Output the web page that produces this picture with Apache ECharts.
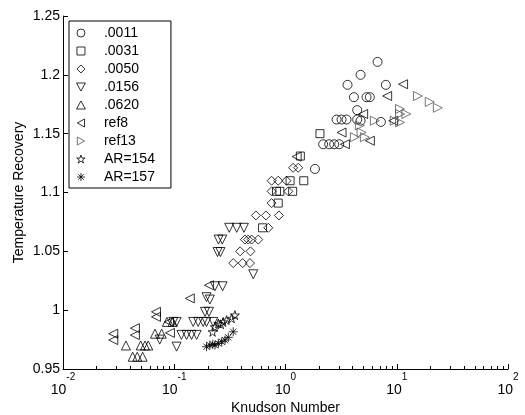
<!DOCTYPE html>
<html>
<head>
<meta charset="utf-8">
<script src="https://cdn.jsdelivr.net/npm/echarts@6/dist/echarts.min.js"></script>
<style>
  html, body { margin: 0; padding: 0; background: #fff; }
  #chart { width: 525px; height: 415px; }
</style>
</head>
<body>
<div id="chart"></div>
<script>
// series names as in the legend
var names = ['.0011', '.0031', '.0050', '.0156', '.0620', 'ref8', 'ref13', 'AR=154', 'AR=157'];

// [Knudson number, temperature recovery]
var d0011 = [[6.72, 1.211], [4.73, 1.200], [3.61, 1.1915], [7.98, 1.1915], [4.12, 1.181], [5.35, 1.181],
  [5.73, 1.181], [4.41, 1.170], [2.88, 1.162], [3.19, 1.162], [3.54, 1.162], [4.41, 1.162], [4.73, 1.161],
  [7.2, 1.160], [2.18, 1.141], [2.47, 1.141], [2.74, 1.141], [3.04, 1.141], [1.84, 1.120]];
var d0031 = [[2.04, 1.150], [1.36, 1.131], [1.10, 1.110], [1.46, 1.110], [0.83, 1.101], [0.89, 1.101],
  [1.16, 1.101], [0.86, 1.091], [0.622, 1.070]];
var d0050 = [[1.17, 1.121], [1.30, 1.121], [0.75, 1.110], [0.86, 1.110], [1.02, 1.110], [0.75, 1.101],
  [1.06, 1.101], [0.75, 1.091], [0.542, 1.0805], [0.667, 1.0805], [0.873, 1.0805], [0.70, 1.070],
  [0.432, 1.060], [0.462, 1.060], [0.496, 1.060], [0.569, 1.060], [0.391, 1.050], [0.484, 1.050],
  [0.339, 1.040], [0.412, 1.040], [0.479, 1.040]];
var d0156 = [[0.312, 1.070], [0.364, 1.070], [0.423, 1.070], [0.25, 1.060], [0.27, 1.060], [0.245, 1.0494],
  [0.26, 1.0494], [0.513, 1.0305], [0.232, 1.0203], [0.272, 1.0203], [0.195, 1.011], [0.209, 1.009],
  [0.189, 0.9986], [0.205, 0.9986], [0.148, 0.990], [0.164, 0.990], [0.182, 0.990], [0.195, 0.990],
  [0.224, 0.990], [0.098, 0.990], [0.105, 0.990], [0.116, 0.979], [0.129, 0.979], [0.143, 0.979],
  [0.159, 0.979], [0.105, 0.969], [0.074, 0.975]];
var d0620 = [[0.0368, 0.970], [0.0423, 0.9604], [0.0465, 0.9604], [0.052, 0.9604], [0.0499, 0.970],
  [0.0546, 0.970], [0.0584, 0.970], [0.0671, 0.980], [0.0771, 0.980], [0.0859, 0.990], [0.0967, 0.990]];
var dRef8 = [[0.0283, 0.980], [0.0283, 0.9746], [0.0443, 0.9847], [0.0443, 0.9788], [0.0685, 0.9986],
  [0.0685, 0.9943], [0.0915, 0.9807], [0.0897, 0.990], [0.138, 1.010], [0.205, 1.0212], [1.26, 1.1305],
  [11.4, 1.192], [8.2, 1.182], [4.99, 1.1667], [3.19, 1.151], [3.42, 1.141], [5.73, 1.144], [9.29, 1.161]];
var dRef13 = [[15.5, 1.182], [19.8, 1.177], [23.4, 1.172], [10.7, 1.171], [12.2, 1.1667], [10.7, 1.1667],
  [9.6, 1.161], [10.7, 1.1596], [6.36, 1.161], [4.2, 1.147], [4.83, 1.151], [5.17, 1.147], [4.66, 1.157]];
var dAR154 = [[0.221, 0.9816], [0.232, 0.9858], [0.249, 0.9887], [0.262, 0.988], [0.275, 0.990],
  [0.295, 0.9915], [0.328, 0.993], [0.351, 0.9958]];
var dAR157 = [[0.195, 0.9689], [0.209, 0.9703], [0.222, 0.971], [0.232, 0.9703], [0.249, 0.9717],
  [0.267, 0.9731], [0.286, 0.9746], [0.306, 0.9769], [0.339, 0.9816]];

// tick labels
var yTicks = [0.95, 1, 1.05, 1.1, 1.15, 1.2, 1.25];
var xDecades = [-2, -1, 0, 1, 2];

var allData = [d0011, d0031, d0050, d0156, d0620, dRef8, dRef13, dAR154, dAR157];

// marker shapes (matlab style, hollow)
var symbols = [
  'circle',
  'path://M0,0L10,0L10,10L0,10Z',
  'path://M5,0L10,5L5,10L0,5Z',
  'path://M0,0L10,0L5,9Z',
  'path://M5,0L10,9L0,9Z',
  'path://M0,5L9,0L9,10Z',
  'path://M0,0L9,5L0,10Z',
  'path://M10,0L12.245,6.91L19.511,6.91L13.633,11.18L15.878,18.09L10,13.82L4.122,18.09L6.367,11.18L0.489,6.91L7.755,6.91Z',
  'path://M5,0L5,10M0,5L10,5M1.5,1.5L8.5,8.5M8.5,1.5L1.5,8.5'
];
var sizes = [9, 8, 9, 9, 9, 9, 9, 9, 9];
var colors = ['#000', '#000', '#000', '#000', '#000', '#000', '#555', '#000', '#000'];

var font = 'Liberation Sans, Arial, sans-serif';
var chart = echarts.init(document.getElementById('chart'));

var hollow = function (c) {
  return { color: 'rgba(0,0,0,0)', borderColor: c, borderWidth: 1 };
};

var series = names.map(function (n, i) {
  return {
    name: n,
    type: 'scatter',
    data: allData[i],
    symbol: symbols[i],
    symbolSize: sizes[i],
    itemStyle: hollow(colors[i]),
    emphasis: { disabled: true }
  };
});

var legendData = names.map(function (n, i) {
  return { name: n, icon: symbols[i], itemStyle: hollow(colors[i]) };
});

chart.setOption({
  animation: false,
  backgroundColor: '#fff',
  grid: { left: 63, right: 17, top: 16, bottom: 46, outerBoundsMode: 'none' },
  legend: {
    orient: 'vertical',
    left: 69,
    top: 21,
    padding: [5, 16, 4, 7],
    itemWidth: 36,
    itemHeight: 8,
    itemGap: 4,
    borderColor: '#000',
    borderWidth: 1,
    backgroundColor: '#fff',
    selectedMode: false,
    symbolKeepAspect: true,
    itemStyle: { borderWidth: 1 },
    textStyle: { fontFamily: font, fontSize: 14, color: '#000' },
    data: legendData
  },
  xAxis: {
    type: 'log',
    logBase: 10,
    min: 0.01,
    max: 100,
    name: 'Knudson Number',
    nameLocation: 'middle',
    nameGap: 32,
    nameMoveOverlap: false,
    nameTextStyle: { fontFamily: font, fontSize: 14, color: '#000' },
    axisLine: { onZero: false, lineStyle: { color: '#000', width: 1 } },
    axisTick: { inside: true, length: 5, lineStyle: { color: '#000' } },
    splitLine: { show: false },
    axisLabel: {
      margin: 3,
      color: '#000',
      formatter: function (v) {
        return '{b|10}{s|' + Math.round(Math.log10(v)) + '}';
      },
      rich: {
        b: { fontFamily: font, fontSize: 14, lineHeight: 36, color: '#000' },
        s: { fontFamily: font, fontSize: 10, lineHeight: 12, verticalAlign: 'top', color: '#000' }
      }
    }
  },
  yAxis: {
    type: 'value',
    min: yTicks[0],
    max: yTicks[yTicks.length - 1],
    interval: 0.05,
    name: 'Temperature Recovery',
    nameLocation: 'middle',
    nameGap: 37,
    nameMoveOverlap: false,
    nameTextStyle: { fontFamily: font, fontSize: 14, color: '#000' },
    axisLine: { show: true, onZero: false, lineStyle: { color: '#000', width: 1 } },
    axisTick: { show: true, inside: true, length: 5, lineStyle: { color: '#000' } },
    splitLine: { show: false },
    axisLabel: {
      margin: 3,
      fontFamily: font,
      fontSize: 14,
      color: '#000',
      formatter: function (v) { return String(+v.toFixed(2)); }
    }
  },
  series: series
});

// minor ticks on the log axis (2..9 inside each decade)
var y0 = chart.convertToPixel({ yAxisIndex: 0 }, yTicks[0]);
var minor = [];
xDecades.slice(0, -1).forEach(function (e) {
  for (var m = 2; m <= 9; m++) {
    var px = Math.round(chart.convertToPixel({ xAxisIndex: 0 }, m * Math.pow(10, e))) + 0.5;
    minor.push({
      type: 'line',
      silent: true,
      shape: { x1: px, y1: y0, x2: px, y2: y0 - 3 },
      style: { stroke: '#000', lineWidth: 1 }
    });
  }
});
chart.setOption({ graphic: minor });
</script>
</body>
</html>
